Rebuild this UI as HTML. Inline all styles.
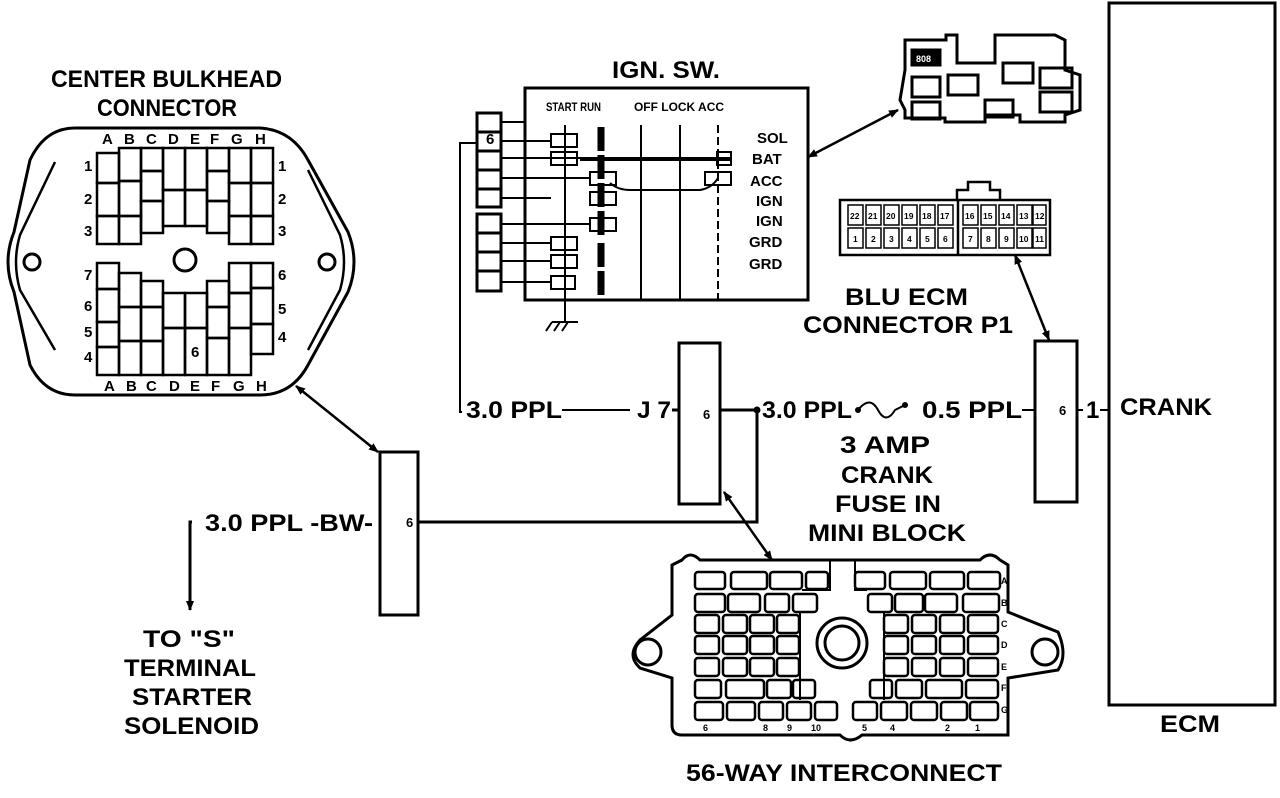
<!DOCTYPE html>
<html><head><meta charset="utf-8"><style>
html,body{margin:0;padding:0;background:#fff;}
svg{display:block;}
text{font-family:"Liberation Sans",Arial,sans-serif;font-weight:bold;fill:#000;}
</style></head><body>
<svg width="1280" height="798" viewBox="0 0 1280 798" xmlns="http://www.w3.org/2000/svg">
<defs>
<marker id="ah" markerWidth="10" markerHeight="10" refX="9" refY="5" orient="auto-start-reverse" markerUnits="userSpaceOnUse"><path d="M0,1 L10,5 L0,9 Z" fill="#000"/></marker>
</defs>
<g fill="none" stroke="#000" stroke-width="3">
<!-- Bulkhead -->
<path d="M75,128 L260,128 Q292,130 308,160 L348,232 Q360,262 348,292 L308,365 Q292,395 260,395 L75,395 Q45,395 30,365 L14,292 Q2,262 14,232 L30,160 Q45,128 75,128 Z"/>
<path d="M55,162 L20,235 Q12,262 20,290 L55,350" stroke-width="2.5"/>
<path d="M308,170 L340,235 Q348,262 340,290 L308,350" stroke-width="2.5"/>
<circle cx="32" cy="262" r="8"/><circle cx="327" cy="262" r="8"/>
<circle cx="185" cy="260" r="11"/>
</g>
<g fill="none" stroke="#000" stroke-width="2.5">
<rect x="97" y="153" width="22" height="30"/><rect x="97" y="183" width="22" height="33"/><rect x="97" y="216" width="22" height="28"/>
<rect x="119" y="148" width="22" height="33"/><rect x="119" y="181" width="22" height="35"/><rect x="119" y="216" width="22" height="28"/>
<rect x="141" y="148" width="22" height="23"/><rect x="141" y="171" width="22" height="30"/><rect x="141" y="201" width="22" height="32"/>
<rect x="163" y="148" width="22" height="42"/><rect x="163" y="190" width="22" height="36"/>
<rect x="185" y="148" width="22" height="42"/><rect x="185" y="190" width="22" height="36"/>
<rect x="207" y="148" width="22" height="23"/><rect x="207" y="171" width="22" height="30"/><rect x="207" y="201" width="22" height="32"/>
<rect x="229" y="148" width="22" height="35"/><rect x="229" y="183" width="22" height="33"/><rect x="229" y="216" width="22" height="28"/>
<rect x="251" y="148" width="22" height="35"/><rect x="251" y="183" width="22" height="33"/><rect x="251" y="216" width="22" height="28"/>
<rect x="97" y="263" width="22" height="26"/><rect x="97" y="289" width="22" height="33"/><rect x="97" y="322" width="22" height="25"/><rect x="97" y="347" width="22" height="28"/>
<rect x="119" y="273" width="22" height="34"/><rect x="119" y="307" width="22" height="34"/><rect x="119" y="341" width="22" height="34"/>
<rect x="141" y="281" width="22" height="26"/><rect x="141" y="307" width="22" height="34"/><rect x="141" y="341" width="22" height="34"/>
<rect x="163" y="293" width="22" height="35"/><rect x="163" y="328" width="22" height="47"/>
<rect x="185" y="293" width="22" height="35"/><rect x="185" y="328" width="22" height="47"/>
<rect x="207" y="281" width="22" height="26"/><rect x="207" y="307" width="22" height="31"/><rect x="207" y="338" width="22" height="37"/>
<rect x="229" y="263" width="22" height="30"/><rect x="229" y="293" width="22" height="35"/><rect x="229" y="328" width="22" height="47"/>
<rect x="251" y="263" width="22" height="25"/><rect x="251" y="288" width="22" height="36"/><rect x="251" y="324" width="22" height="30"/>
</g>
<g font-size="15">
<text x="102" y="144">A</text><text x="124" y="144">B</text><text x="146" y="144">C</text><text x="168" y="144">D</text><text x="190" y="144">E</text><text x="210" y="144">F</text><text x="231" y="144">G</text><text x="255" y="144">H</text>
<text x="104" y="391">A</text><text x="126" y="391">B</text><text x="146" y="391">C</text><text x="169" y="391">D</text><text x="190" y="391">E</text><text x="211" y="391">F</text><text x="233" y="391">G</text><text x="256" y="391">H</text>
<text x="84" y="171">1</text><text x="84" y="204">2</text><text x="84" y="236">3</text>
<text x="84" y="280">7</text><text x="84" y="311">6</text><text x="84" y="337">5</text><text x="84" y="362">4</text>
<text x="278" y="171">1</text><text x="278" y="204">2</text><text x="278" y="236">3</text>
<text x="278" y="280">6</text><text x="278" y="314">5</text><text x="278" y="342">4</text>
<text x="191" y="357">6</text>
</g>
<g font-size="24">
<text x="51" y="87" textLength="231" lengthAdjust="spacingAndGlyphs">CENTER BULKHEAD</text>
<text x="97" y="116" textLength="140" lengthAdjust="spacingAndGlyphs">CONNECTOR</text>
<text x="612" y="78" textLength="108" lengthAdjust="spacingAndGlyphs">IGN. SW.</text>
<text x="845" y="305" textLength="123" lengthAdjust="spacingAndGlyphs">BLU ECM</text>
<text x="803" y="333" textLength="210" lengthAdjust="spacingAndGlyphs">CONNECTOR P1</text>
<text x="466" y="418" textLength="96" lengthAdjust="spacingAndGlyphs">3.0 PPL</text>
<text x="637" y="418" textLength="34" lengthAdjust="spacingAndGlyphs">J 7</text>
<text x="762" y="418" textLength="90" lengthAdjust="spacingAndGlyphs">3.0 PPL</text>
<text x="922" y="418" textLength="100" lengthAdjust="spacingAndGlyphs">0.5 PPL</text>
<text x="1086" y="418">1</text>
<text x="1120" y="415" textLength="92" lengthAdjust="spacingAndGlyphs">CRANK</text>
<text x="840" y="453" textLength="90" lengthAdjust="spacingAndGlyphs">3 AMP</text>
<text x="841" y="483" textLength="92" lengthAdjust="spacingAndGlyphs">CRANK</text>
<text x="835" y="512" textLength="106" lengthAdjust="spacingAndGlyphs">FUSE IN</text>
<text x="808" y="541" textLength="158" lengthAdjust="spacingAndGlyphs">MINI BLOCK</text>
<text x="205" y="531" textLength="168" lengthAdjust="spacingAndGlyphs">3.0 PPL -BW-</text>
<text x="143" y="647" textLength="92" lengthAdjust="spacingAndGlyphs">TO "S"</text>
<text x="124" y="676" textLength="132" lengthAdjust="spacingAndGlyphs">TERMINAL</text>
<text x="132" y="705" textLength="120" lengthAdjust="spacingAndGlyphs">STARTER</text>
<text x="124" y="734" textLength="135" lengthAdjust="spacingAndGlyphs">SOLENOID</text>
<text x="1160" y="732" textLength="60" lengthAdjust="spacingAndGlyphs">ECM</text>
<text x="686" y="781" textLength="316" lengthAdjust="spacingAndGlyphs">56-WAY INTERCONNECT</text>
</g>
<g font-size="13">
<text x="406" y="527">6</text><text x="703" y="419">6</text><text x="1059" y="415">6</text>
</g>
<g fill="none" stroke="#000" stroke-width="3">
<rect x="380" y="452" width="38" height="163"/>
<rect x="679" y="343" width="41" height="161"/>
<rect x="1035" y="341" width="42" height="161"/>
<rect x="1109" y="3" width="166" height="702"/>
<path d="M418,522 L757,522 L757,410 L720,410"/>
<path d="M192,522 L190,522 L190,610" marker-end="url(#ah)"/>
<path d="M562,410 L630,410" stroke-width="2"/>
<path d="M672,410 L679,410"/>
<path d="M1022,410 L1035,410 M1077,410 L1083,410 M1100,410 L1109,410" stroke-width="2"/>
<path d="M462,412 L460,412 L460,143 L478,143" stroke-width="2"/>
<path d="M858,410 Q870,395 878,410 Q886,425 895,410 L905,405" stroke-width="2"/>
<path d="M296,386 L378,452" stroke-width="2.5" marker-start="url(#ah)" marker-end="url(#ah)"/>
<path d="M724,492 L772,560" stroke-width="2.5" marker-start="url(#ah)" marker-end="url(#ah)"/>
<path d="M1015,255 L1049,340" stroke-width="2.5" marker-start="url(#ah)" marker-end="url(#ah)"/>
<path d="M808,157 L898,110" stroke-width="2.5" marker-start="url(#ah)" marker-end="url(#ah)"/>
</g>
<circle cx="757" cy="410" r="3.5"/><circle cx="858" cy="410" r="3"/><circle cx="905" cy="405" r="3"/>
<g fill="none" stroke="#000" stroke-width="3">
<rect x="525" y="88" width="283" height="212"/>
<rect x="477" y="113" width="24" height="94"/>
<path d="M477,132 H501 M477,151 H501 M477,170 H501 M477,189 H501"/>
<rect x="477" y="214" width="24" height="77"/>
<path d="M477,233 H501 M477,252 H501 M477,271 H501"/>
</g>
<g fill="none" stroke="#000" stroke-width="2">
<path d="M501,122 H525 M501,141 H551 M501,158 H551 M501,178 H590 M501,198 H551 M501,224 H590 M501,243 H551 M501,261 H551 M501,282 H551"/>
<path d="M565,125 V300 M565,300 V318"/>
<path d="M641,125 V300 M680,125 V300" stroke-width="2"/>
<path d="M718,125 V300" stroke-dasharray="8,4"/>
<path d="M551,158 H730 M580,160 L730,160"/>
<path d="M610,183 Q618,190 630,190 L700,190 Q712,188 718,178"/>
<rect x="551" y="134" width="26" height="13"/><rect x="551" y="152" width="26" height="13"/>
<rect x="590" y="172" width="26" height="13"/><rect x="590" y="192" width="26" height="13"/>
<rect x="590" y="218" width="26" height="13"/>
<rect x="551" y="237" width="26" height="13"/><rect x="551" y="255" width="26" height="13"/><rect x="551" y="276" width="24" height="13"/>
<rect x="705" y="172" width="26" height="13"/><rect x="717" y="152" width="14" height="13"/>
<path d="M565,300 V322 M552,322 H578 M552,322 l-6,9 M560,322 l-6,9 M568,322 l-6,9"/>
</g>
<path d="M601,127 V235 M601,243 V295" stroke="#000" stroke-width="7" stroke-dasharray="24,4"/>
<g font-size="12"><text x="546" y="111" textLength="55" lengthAdjust="spacingAndGlyphs">START RUN</text><text x="634" y="111" textLength="90" lengthAdjust="spacingAndGlyphs">OFF LOCK ACC</text></g>
<g font-size="15"><text x="486" y="144">6</text>
<text x="757" y="143">SOL</text><text x="752" y="164">BAT</text><text x="750" y="186">ACC</text><text x="756" y="206">IGN</text><text x="756" y="226">IGN</text><text x="749" y="247">GRD</text><text x="749" y="269">GRD</text></g>
<g fill="none" stroke="#000" stroke-width="2.5">
<rect x="840" y="200" width="210" height="55"/>
<path d="M957,200 V190 H968 V182 H990 V190 H1000 V200"/>
<path d="M958,200 V255"/>
</g>
<g fill="none" stroke="#000" stroke-width="1.5">
<rect x="848" y="205" width="15" height="20"/><rect x="866" y="205" width="15" height="20"/><rect x="884" y="205" width="15" height="20"/><rect x="902" y="205" width="15" height="20"/><rect x="920" y="205" width="15" height="20"/><rect x="938" y="205" width="15" height="20"/>
<rect x="848" y="228" width="15" height="20"/><rect x="866" y="228" width="15" height="20"/><rect x="884" y="228" width="15" height="20"/><rect x="902" y="228" width="15" height="20"/><rect x="920" y="228" width="15" height="20"/><rect x="938" y="228" width="15" height="20"/>
<rect x="963" y="205" width="15" height="20"/><rect x="981" y="205" width="15" height="20"/><rect x="999" y="205" width="15" height="20"/><rect x="1017" y="205" width="15" height="20"/><rect x="1033" y="205" width="13" height="20"/>
<rect x="963" y="228" width="15" height="20"/><rect x="981" y="228" width="15" height="20"/><rect x="999" y="228" width="15" height="20"/><rect x="1017" y="228" width="15" height="20"/><rect x="1033" y="228" width="13" height="20"/>
</g>
<g font-size="8.5"><text x="850" y="219">22</text><text x="868" y="219">21</text><text x="886" y="219">20</text><text x="904" y="219">19</text><text x="922" y="219">18</text><text x="940" y="219">17</text><text x="965" y="219">16</text><text x="983" y="219">15</text><text x="1001" y="219">14</text><text x="1019" y="219">13</text><text x="1035" y="219">12</text>
<text x="853" y="242">1</text><text x="871" y="242">2</text><text x="889" y="242">3</text><text x="907" y="242">4</text><text x="925" y="242">5</text><text x="943" y="242">6</text><text x="968" y="242">7</text><text x="986" y="242">8</text><text x="1004" y="242">9</text><text x="1019" y="242">10</text><text x="1035" y="242">11</text></g>
<g fill="none" stroke="#000" stroke-width="3">
<path d="M905,70 V40 L946,40 V35 L957,35 V63 H995 V35 H1055 L1065,40 V70 L1080,75 V110 L1065,115 V122 H1020 V115 H985 V122 H945 V118 H905 V110 L900,100 Z"/>
<rect x="912" y="50" width="28" height="15" fill="#000"/>
<rect x="912" y="77" width="28" height="20"/><rect x="948" y="75" width="30" height="20"/>
<rect x="1003" y="63" width="30" height="20"/><rect x="1040" y="68" width="32" height="20"/><rect x="1040" y="92" width="32" height="20"/>
<rect x="912" y="102" width="28" height="17"/><rect x="985" y="100" width="28" height="17"/>
</g>
<text x="916" y="62" font-size="9" style="fill:#fff">808</text>
<g fill="none" stroke="#000" stroke-width="3">
<path d="M682,560 Q690,550 700,560 L980,560 Q990,550 1000,560 L1008,565 V612 Q1040,625 1058,632 Q1068,655 1058,670 L1008,678 V735 L862,735 Q850,745 840,735 L682,735 Q672,735 672,725 V678 L640,668 Q626,655 640,640 L672,615 V565 Z"/>
<circle cx="648" cy="652" r="13"/><circle cx="1045" cy="652" r="13"/>
<circle cx="842" cy="643" r="25"/><circle cx="842" cy="643" r="17"/>
</g>
<g fill="none" stroke="#000" stroke-width="2.5">
<rect x="695" y="572" width="30" height="17" rx="3"/><rect x="731" y="572" width="36" height="17" rx="3"/><rect x="770" y="572" width="32" height="17" rx="3"/><rect x="806" y="572" width="22" height="17" rx="3"/>
<rect x="855" y="572" width="30" height="17" rx="3"/><rect x="890" y="572" width="36" height="17" rx="3"/><rect x="930" y="572" width="34" height="17" rx="3"/><rect x="968" y="572" width="32" height="17" rx="3"/>
<rect x="695" y="594" width="30" height="18" rx="3"/><rect x="728" y="594" width="32" height="18" rx="3"/><rect x="765" y="594" width="24" height="18" rx="3"/><rect x="793" y="594" width="24" height="18" rx="3"/>
<rect x="868" y="594" width="24" height="18" rx="3"/><rect x="895" y="594" width="28" height="18" rx="3"/><rect x="925" y="594" width="32" height="18" rx="3"/><rect x="963" y="594" width="36" height="18" rx="3"/>
<rect x="695" y="615" width="24" height="18" rx="3"/><rect x="723" y="615" width="24" height="18" rx="3"/><rect x="750" y="615" width="24" height="18" rx="3"/><rect x="777" y="615" width="22" height="18" rx="3"/>
<rect x="884" y="615" width="24" height="18" rx="3"/><rect x="912" y="615" width="24" height="18" rx="3"/><rect x="940" y="615" width="24" height="18" rx="3"/><rect x="968" y="615" width="30" height="18" rx="3"/>
<rect x="695" y="636" width="24" height="18" rx="3"/><rect x="723" y="636" width="24" height="18" rx="3"/><rect x="750" y="636" width="24" height="18" rx="3"/><rect x="777" y="636" width="22" height="18" rx="3"/>
<rect x="884" y="636" width="24" height="18" rx="3"/><rect x="912" y="636" width="24" height="18" rx="3"/><rect x="940" y="636" width="24" height="18" rx="3"/><rect x="968" y="636" width="30" height="18" rx="3"/>
<rect x="695" y="658" width="24" height="18" rx="3"/><rect x="723" y="658" width="24" height="18" rx="3"/><rect x="750" y="658" width="24" height="18" rx="3"/><rect x="777" y="658" width="22" height="18" rx="3"/>
<rect x="884" y="658" width="24" height="18" rx="3"/><rect x="912" y="658" width="24" height="18" rx="3"/><rect x="940" y="658" width="24" height="18" rx="3"/><rect x="968" y="658" width="30" height="18" rx="3"/>
<rect x="695" y="680" width="26" height="18" rx="3"/><rect x="726" y="680" width="38" height="18" rx="3"/><rect x="767" y="680" width="24" height="18" rx="3"/><rect x="793" y="680" width="22" height="18" rx="3"/>
<rect x="870" y="680" width="22" height="18" rx="3"/><rect x="896" y="680" width="26" height="18" rx="3"/><rect x="926" y="680" width="36" height="18" rx="3"/><rect x="966" y="680" width="32" height="18" rx="3"/>
<rect x="695" y="702" width="28" height="18" rx="3"/><rect x="727" y="702" width="28" height="18" rx="3"/><rect x="759" y="702" width="24" height="18" rx="3"/><rect x="787" y="702" width="24" height="18" rx="3"/><rect x="815" y="702" width="22" height="18" rx="3"/>
<rect x="853" y="702" width="24" height="18" rx="3"/><rect x="881" y="702" width="26" height="18" rx="3"/><rect x="911" y="702" width="26" height="18" rx="3"/><rect x="941" y="702" width="26" height="18" rx="3"/><rect x="970" y="702" width="28" height="18" rx="3"/>
<path d="M802,590 H830 V560 M855,560 V590 H867 M800,612 V700 M884,612 V700" stroke-width="2"/>
</g>
<g font-size="9"><text x="1001" y="584">A</text><text x="1001" y="606">B</text><text x="1001" y="627">C</text><text x="1001" y="648">D</text><text x="1001" y="670">E</text><text x="1001" y="691">F</text><text x="1001" y="713">G</text>
<text x="703" y="731">6</text><text x="763" y="731">8</text><text x="787" y="731">9</text><text x="811" y="731">10</text><text x="862" y="731">5</text><text x="890" y="731">4</text><text x="945" y="731">2</text><text x="975" y="731">1</text></g>
</svg>
</body></html>
